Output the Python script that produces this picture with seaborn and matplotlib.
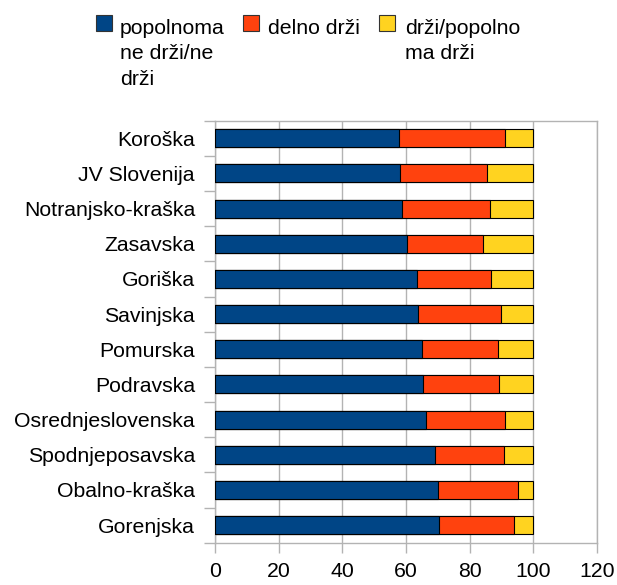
import matplotlib
matplotlib.use("Agg")
import matplotlib.pyplot as plt
import seaborn as sns
import numpy as np
import pandas as pd
from matplotlib.ticker import FixedLocator
from matplotlib.patches import Rectangle

regions = ["Koroška", "JV Slovenija", "Notranjsko-kraška", "Zasavska", "Goriška",
           "Savinjska", "Pomurska", "Podravska", "Osrednjeslovenska",
           "Spodnjeposavska", "Obalno-kraška", "Gorenjska"]
ne_drzi = [57.9, 58.1, 58.8, 60.2, 63.3, 63.9, 65.1, 65.2, 66.4, 69.0, 70.1, 70.5]
delno = [33.1, 27.4, 27.5, 24.1, 23.3, 25.8, 23.7, 23.9, 24.7, 21.8, 25.0, 23.4]
drzi = [9.0, 14.5, 13.7, 15.7, 13.4, 10.3, 11.2, 10.9, 8.9, 9.2, 4.9, 6.1]
series_labels = ["popolnoma\nne drži/ne\ndrži", "delno drži", "drži/popolno\nma drži"]
xticks = [0, 20, 40, 60, 80, 100, 120]

colors = ["#004586", "#ff420e", "#ffd320"]
grid_c = "#b3b3b3"
FS = 15.3

sns.set_theme(style="white")
plt.rcParams['font.family'] = ['Liberation Sans', 'DejaVu Sans']

df = pd.DataFrame({"region": regions, "a": ne_drzi, "b": delno, "c": drzi})
df["ab"] = df["a"] + df["b"]
df["abc"] = df["ab"] + df["c"]

W, H = 617, 585
fig = plt.figure(figsize=(W / 100, H / 100), dpi=100)
ax = fig.add_axes([215 / W, 1 - 542.7 / H, (597 - 215) / W, (542.7 - 120.7) / H])

kw = dict(y="region", orient="h", width=0.51, edgecolor="black", linewidth=0.8, ax=ax,
          order=regions, zorder=3)
sns.barplot(data=df, x="abc", color=colors[2], saturation=1, **kw)
sns.barplot(data=df, x="ab", color=colors[1], saturation=1, **kw)
sns.barplot(data=df, x="a", color=colors[0], saturation=1, **kw)

ax.set_xlim(0, 120)
ax.set_ylim(len(regions) - 0.5, -0.5)
ax.set_xticks(xticks)
ax.set_xticklabels([str(t) for t in xticks])
ax.set_xlabel("")
ax.set_ylabel("")
ax.xaxis.grid(True, color=grid_c, linewidth=1.0, zorder=0)
ax.set_axisbelow(True)
for s in ax.spines.values():
    s.set_color(grid_c)
    s.set_linewidth(1.0)

ax.tick_params(axis="x", which="major", length=7, color=grid_c, width=1.0,
               labelsize=FS, pad=7, bottom=True)
ax.tick_params(axis="y", which="major", length=0, labelsize=FS, pad=14.4, left=False)
ax.yaxis.set_minor_locator(FixedLocator(np.arange(len(regions) + 1) - 0.5))
ax.tick_params(axis="y", which="minor", length=8, color=grid_c, width=1.0, left=True)
for lab in ax.get_xticklabels() + ax.get_yticklabels():
    lab.set_color("black")

# legend drawn at the top of the figure
sq_x = [96, 243, 379]
tx_x = [120, 268, 405]
for c, lab, sx, tx in zip(colors, series_labels, sq_x, tx_x):
    fig.add_artist(Rectangle((sx / W, 1 - 31 / H), 16 / W, 16 / H, transform=fig.transFigure,
                             facecolor=c, edgecolor="#333333", linewidth=0.8))
    fig.text(tx / W, 1 - 19 / H, lab, fontsize=FS, ha="left", va="top",
             linespacing=1.42, color="black")

fig.savefig("out.png", dpi=100)
